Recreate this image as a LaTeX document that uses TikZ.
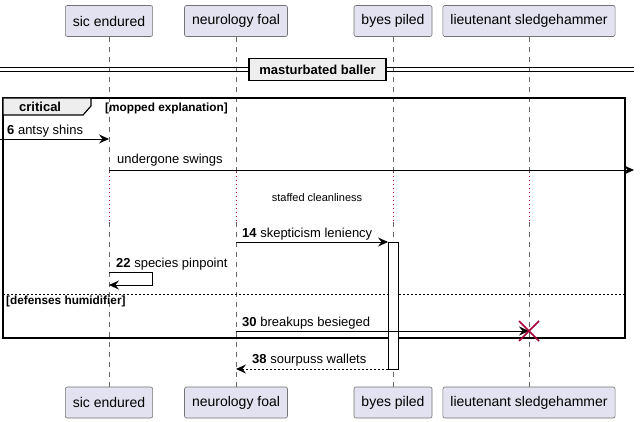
\documentclass[tikz,border=0pt]{standalone}
\usepackage{fontspec}
\setmainfont{Liberation Sans}
\usetikzlibrary{arrows.meta,positioning}
\definecolor{actorfill}{HTML}{E2E2F0}
\definecolor{groupfill}{HTML}{EEEEEE}
\definecolor{plumred}{HTML}{A80036}

\begin{document}
\begin{tikzpicture}[x=1pt,y=-1pt,>={Stealth[length=10pt,width=9pt,inset=3.5pt]},
  actor box/.style={draw=black!55,line width=0.6pt,fill=actorfill,rounded corners=2pt,
    minimum height=31pt,inner xsep=7.5pt,font=\fontsize{14}{16}\selectfont},
  life line/.style={draw=black!60,line width=0.6pt,dash pattern=on 5pt off 5pt},
  delay line/.style={draw=plumred,line width=0.8pt,dash pattern=on 1pt off 3pt},
  msg/.style={->,line width=0.9pt},
  reply/.style={->,line width=0.9pt,dash pattern=on 2pt off 2pt},
  msg text/.style={anchor=base west,inner sep=0pt,font=\fontsize{13}{15}\selectfont},
  group text/.style={anchor=base west,inner sep=0pt,font=\fontsize{11.8}{14}\selectfont\bfseries}]

  \useasboundingbox (0,0) rectangle (640,422);

  % participants
  \node[actor box] (sic) at (109,21) {sic endured};
  \node[actor box] (foal) at (236,21) {neurology foal};
  \node[actor box] (byes) at (393,21) {byes piled};
  \node[actor box] (lieut) at (529,21) {lieutenant sledgehammer};
  \node[actor box] (sic-end) at (109,402.5) {sic endured};
  \node[actor box] (foal-end) at (236,402.5) {neurology foal};
  \node[actor box] (byes-end) at (393,402.5) {byes piled};
  \node[actor box] (lieut-end) at (529,402.5) {lieutenant sledgehammer};

  % lifelines, dotted during the delay
  \foreach \p in {sic,foal,byes,lieut} {
    \draw[life line] (\p.south) -- (\p.south |- 0,172);
    \draw[delay line] (\p.south |- 0,172) -- (\p.south |- 0,222);
    \draw[life line] (\p.south |- 0,222) -- (\p-end.north);
  }

  % divider
  \draw[line width=1pt] (0,68) -- (634,68) (0,72) -- (634,72);
  \node[draw,line width=1.6pt,fill=groupfill,minimum width=137pt,minimum height=22pt,
    inner sep=0pt,font=\fontsize{13}{15}\selectfont\bfseries] (divider) at (317.5,69.5) {masturbated baller};

  % critical group
  \draw[line width=1.8pt] (3,98) rectangle (625,338);
  \draw[line width=1.2pt,fill=groupfill] (3,98) -- (91,98) -- (91,106) -- (83,115) -- (3,115) -- cycle;
  \node[anchor=base west,inner sep=0pt,font=\fontsize{13}{15}\selectfont\bfseries] (crit) at (19,112) {critical};
  \node[group text] (guard1) at (105,112) {[mopped explanation]};
  \draw[line width=0.8pt,dash pattern=on 2pt off 2pt] (3,294) -- (625,294);
  \node[group text] (guard2) at (6,305) {[defenses humidifier]};

  % activation
  \coordinate (act-top) at (byes.south |- 0,242);
  \coordinate (act-bot) at (byes.south |- 0,369);
  \draw[line width=0.9pt,fill=white] ([xshift=-5pt]act-top) rectangle ([xshift=5pt]act-bot);

  % messages
  \coordinate (in6) at (0,139);
  \draw[msg] (in6) -- (sic.south |- in6);
  \node[msg text] (l6) at (7,135) {\textbf{6} antsy shins};

  \coordinate (out10) at (634,170);
  \draw[msg] (sic.south |- out10) -- (out10);
  \node[msg text] (l10) at (117,164) {undergone swings};

  \node[anchor=base,inner sep=0pt,font=\fontsize{11}{13}\selectfont] (delay) at (317,202) {staffed cleanliness};

  \draw[msg] (foal.south |- act-top) -- ([xshift=-5pt]act-top);
  \node[msg text] (l14) at (242,237) {\textbf{14} skepticism leniency};

  \coordinate (self-a) at ([xshift=43pt]sic.south |- 0,272);
  \coordinate (self-b) at ([xshift=43pt]sic.south |- 0,285);
  \draw[msg] (sic.south |- self-a) -- (self-a) -- (self-b) -- (sic.south |- self-b);
  \node[msg text] (l22) at (116,267) {\textbf{22} species pinpoint};

  \coordinate (kill) at (lieut.south |- 0,331);
  \draw[msg] (foal.south |- kill) -- (kill);
  \node[msg text] (l30) at (242,326) {\textbf{30} breakups besieged};
  \draw[plumred,line width=1.6pt] ([shift={(-10pt,-10pt)}]kill) -- ([shift={(10pt,10pt)}]kill)
    ([shift={(-10pt,10pt)}]kill) -- ([shift={(10pt,-10pt)}]kill);

  \draw[reply] ([xshift=-5pt]act-bot) -- (foal.south |- act-bot);
  \node[msg text] (l38) at (252,363) {\textbf{38} sourpuss wallets};
\end{tikzpicture}
\end{document}
